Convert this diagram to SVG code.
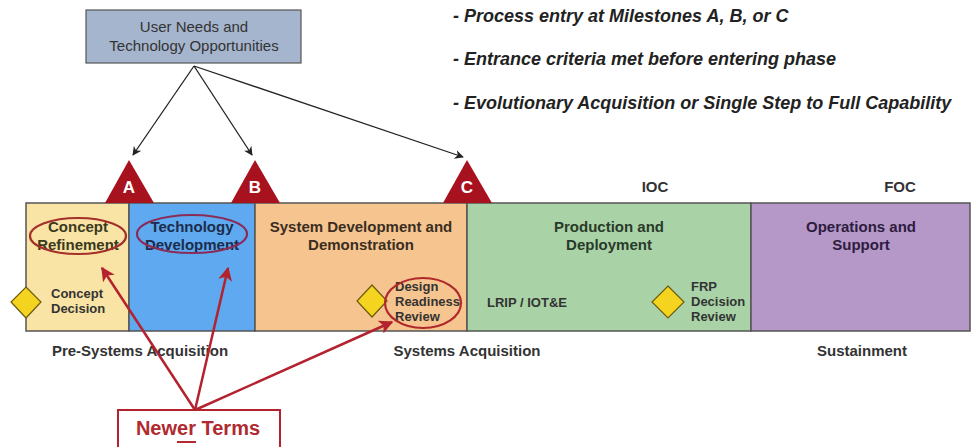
<svg xmlns="http://www.w3.org/2000/svg" width="973" height="447" viewBox="0 0 973 447">
  <style>
    .t { font-family: "Liberation Sans", Arial, sans-serif; fill: #333; }
    .b { font-weight: bold; }
    .ph { font-family: "Liberation Sans", Arial, sans-serif; font-weight: bold; font-size: 15px; text-anchor: middle; }
    .sm { font-family: "Liberation Sans", Arial, sans-serif; font-weight: bold; font-size: 13px; fill: #333; }
    .bullet { font-family: "Liberation Sans", Arial, sans-serif; font-weight: bold; font-style: italic; font-size: 18px; fill: #222; }
    .lbl { font-family: "Liberation Sans", Arial, sans-serif; font-weight: bold; font-size: 15px; fill: #333; text-anchor: middle; }
    .phase { stroke: #555; stroke-width: 1.5; }
    .diamond { fill: #f5d420; stroke: #6b5a10; stroke-width: 1.2; }
    .ms { fill: #a8121f; }
    .msl { font-family: "Liberation Sans", Arial, sans-serif; font-weight: bold; font-size: 17px; fill: #fff; text-anchor: middle; }
    .blk { stroke: #222; stroke-width: 1.3; fill: none; marker-end: url(#ah); }
    .red { stroke: #b3222e; stroke-width: 2.5; fill: none; marker-end: url(#rh); }
    .ring { fill: none; stroke-width: 2.2; }
  </style>
  <defs>
    <marker id="ah" viewBox="0 0 10 10" refX="9" refY="5" markerWidth="9" markerHeight="9" markerUnits="userSpaceOnUse" orient="auto">
      <path d="M0,0 L10,5 L0,10 L3,5 Z" fill="#222"/>
    </marker>
    <marker id="rh" viewBox="0 0 10 10" refX="9" refY="5" markerWidth="14" markerHeight="14" markerUnits="userSpaceOnUse" orient="auto">
      <path d="M0,0 L10,5 L0,10 L2.5,5 Z" fill="#b3222e"/>
    </marker>
  </defs>

  <rect width="973" height="447" fill="#fff"/>

  <!-- source box -->
  <g id="user-needs">
    <rect x="86" y="10" width="215" height="53" fill="#a5b5cd" stroke="#555" stroke-width="1.2"/>
    <text class="t" font-size="15" text-anchor="middle" fill="#444"><tspan x="194" y="32">User Needs and</tspan><tspan x="194" y="51">Technology Opportunities</tspan></text>
  </g>

  <!-- notes -->
  <g id="notes">
    <text class="bullet" x="453" y="22">- Process entry at Milestones A, B, or C</text>
    <text class="bullet" x="453" y="65">- Entrance criteria met before entering phase</text>
    <text class="bullet" x="453" y="109">- Evolutionary Acquisition or Single Step to Full Capability</text>
  </g>

  <!-- phases -->
  <g id="concept-refinement">
    <rect class="phase" x="26" y="203" width="103" height="128" fill="#f9e3a5"/>
    <text class="ph" fill="#3a3a1e"><tspan x="78" y="232">Concept</tspan><tspan x="78" y="250">Refinement</tspan></text>
  </g>
  <g id="technology-development">
    <rect class="phase" x="129" y="203" width="126" height="128" fill="#5ea9ef"/>
    <text class="ph" fill="#1c2c4c"><tspan x="192" y="232">Technology</tspan><tspan x="192" y="250">Development</tspan></text>
  </g>
  <g id="system-development">
    <rect class="phase" x="255" y="203" width="212" height="128" fill="#f6c48f"/>
    <text class="ph" fill="#3a2e22"><tspan x="361" y="232">System Development and</tspan><tspan x="361" y="250">Demonstration</tspan></text>
  </g>
  <g id="production-deployment">
    <rect class="phase" x="467" y="203" width="284" height="128" fill="#a9d3a6"/>
    <text class="ph" fill="#2a3a2a"><tspan x="609" y="232">Production and</tspan><tspan x="609" y="250">Deployment</tspan></text>
    <text class="sm" x="487" y="307">LRIP / IOT&amp;E</text>
  </g>
  <g id="operations-support">
    <rect class="phase" x="751" y="203" width="219" height="128" fill="#b598c8"/>
    <text class="ph" fill="#2e1c40"><tspan x="861" y="232">Operations and</tspan><tspan x="861" y="250">Support</tspan></text>
  </g>

  <!-- decision points -->
  <g id="concept-decision">
    <path class="diamond" d="M26,287 L41,302 L26,318 L11,302 Z"/>
    <text class="sm"><tspan x="51" y="298">Concept</tspan><tspan x="51" y="313">Decision</tspan></text>
  </g>
  <g id="design-readiness-review">
    <path class="diamond" d="M372,285 L387,301 L372,317 L357,301 Z"/>
    <text class="sm"><tspan x="395" y="291">Design</tspan><tspan x="395" y="306">Readiness</tspan><tspan x="395" y="321">Review</tspan></text>
  </g>
  <g id="frp-decision-review">
    <path class="diamond" d="M668,286 L684,302 L668,318 L652,302 Z"/>
    <text class="sm"><tspan x="691" y="291">FRP</tspan><tspan x="691" y="306">Decision</tspan><tspan x="691" y="321">Review</tspan></text>
  </g>

  <!-- milestones -->
  <g id="milestone-a">
    <path class="ms" d="M129,160 L154,203 L105,203 Z"/>
    <text class="msl" x="129" y="193">A</text>
  </g>
  <g id="milestone-b">
    <path class="ms" d="M255,160 L280,203 L231,203 Z"/>
    <text class="msl" x="255" y="193">B</text>
  </g>
  <g id="milestone-c">
    <path class="ms" d="M467,160 L492,203 L443,203 Z"/>
    <text class="msl" x="467" y="193">C</text>
  </g>

  <!-- capability and phase-group labels -->
  <g id="labels">
    <text class="lbl" x="655" y="192">IOC</text>
    <text class="lbl" x="900" y="192">FOC</text>
    <text class="lbl" x="140" y="356">Pre-Systems Acquisition</text>
    <text class="lbl" x="467" y="356">Systems Acquisition</text>
    <text class="lbl" x="862" y="356">Sustainment</text>
  </g>

  <!-- highlight rings -->
  <g id="highlights">
    <ellipse class="ring" cx="78" cy="236" rx="48" ry="18" stroke="#a3302a"/>
    <ellipse class="ring" cx="192" cy="234" rx="55" ry="19" stroke="#8a2c58"/>
    <ellipse class="ring" cx="423" cy="303" rx="38" ry="25" stroke="#b0282c"/>
  </g>

  <!-- connectors -->
  <g id="connectors">
    <line class="blk" x1="194" y1="66" x2="133" y2="155"/>
    <line class="blk" x1="194" y1="66" x2="252" y2="155"/>
    <line class="blk" x1="194" y1="66" x2="463" y2="157"/>
    <line class="red" x1="195" y1="410" x2="102" y2="268"/>
    <line class="red" x1="195" y1="410" x2="228" y2="268"/>
    <line class="red" x1="195" y1="410" x2="392" y2="322"/>
  </g>

  <!-- callout -->
  <g id="newer-terms">
    <rect x="118" y="410" width="162" height="50" fill="#fff" stroke="#b3222e" stroke-width="2"/>
    <text x="198" y="435" font-family="'Liberation Sans', Arial, sans-serif" font-weight="bold" font-size="20" fill="#b02a30" text-anchor="middle">Newer Terms</text>
    <line x1="177" y1="442" x2="196" y2="442" stroke="#b02a30" stroke-width="2"/>
  </g>
</svg>
